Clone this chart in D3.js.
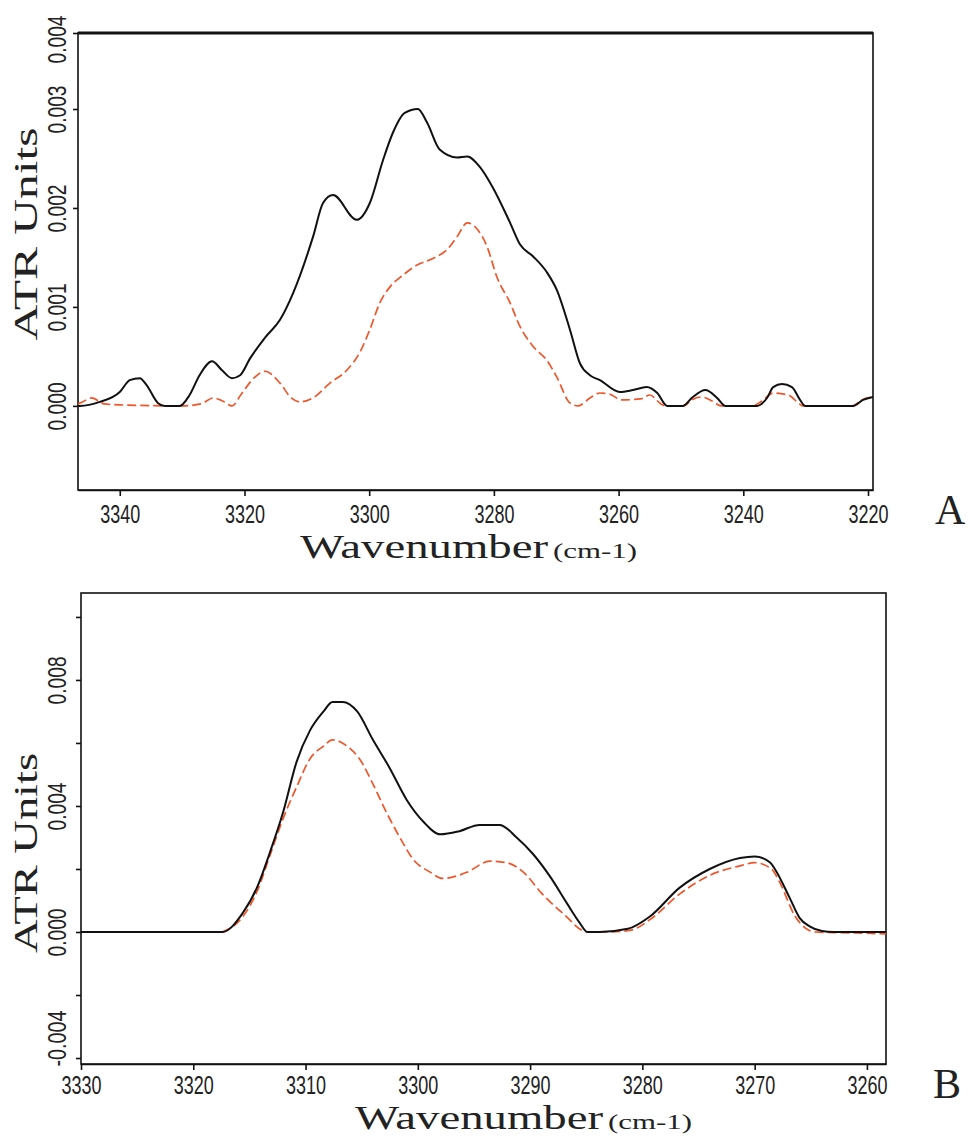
<!DOCTYPE html>
<html>
<head>
<meta charset="utf-8">
<script src="https://cdn.jsdelivr.net/npm/d3@7"></script>
<style>
  body { margin: 0; background: #fff; }
  svg { display: block; }
</style>
</head>
<body>
<svg id="chart" width="969" height="1136"></svg>
<script>
// ---- panel A data (wavenumber cm-1, ATR units) ----
const aBlackWn = [3346.7, 3346.4, 3343.2, 3340.0, 3338.4, 3336.8, 3335.7, 3333.9, 3332.8, 3330.4,
  3328.8, 3327.2, 3325.2, 3323.6, 3322.0, 3320.7, 3319.1, 3316.7, 3314.3, 3312.2,
  3309.0, 3307.4, 3305.8, 3302.0, 3299.9, 3297.8, 3296.2, 3294.3, 3292.2, 3290.7,
  3288.7, 3285.9, 3284.3, 3282.2, 3280.2, 3277.4, 3275.8, 3273.7, 3271.5, 3269.9,
  3267.8, 3266.2, 3264.6, 3263.0, 3259.8, 3257.7, 3255.5, 3253.8, 3252.2, 3249.7,
  3248.1, 3246.1, 3244.2, 3242.9, 3237.8, 3236.2, 3235.2, 3233.8, 3232.2, 3230.9,
  3230.1, 3222.4, 3220.8, 3219.2];
const aBlackAbs = [0, 0, 0.00004, 0.00014, 0.00026, 0.00028, 0.00021, 0.00003, 0, 0,
  0.00011, 0.00031, 0.00045, 0.00036, 0.00028, 0.00031, 0.00048, 0.00069, 0.00087, 0.00114,
  0.00171, 0.00205, 0.00213, 0.00188, 0.00205, 0.00248, 0.00276, 0.00296, 0.00300, 0.00286,
  0.00259, 0.00251, 0.00252, 0.00241, 0.00221, 0.00185, 0.00163, 0.00151, 0.00135, 0.00117,
  0.00077, 0.00043, 0.00031, 0.00026, 0.00014, 0.00016, 0.00019, 0.00013, 0, 0,
  0.00009, 0.00016, 0.00008, 0, 0, 0.00008, 0.00019, 0.00022, 0.00019, 0.00006,
  0, 0, 0.00006, 0.00009];

const aRedWn = [3346.7, 3346.0, 3344.5, 3342.5, 3340.0, 3330.0, 3327.0, 3325.0, 3323.5, 3322.0,
  3320.5, 3318.5, 3316.7, 3314.3, 3312.5, 3311.1, 3309.0, 3306.3, 3303.6, 3301.5,
  3299.9, 3298.3, 3296.7, 3294.6, 3292.4, 3289.8, 3287.5, 3285.9, 3284.3, 3282.6,
  3281.1, 3279.5, 3277.4, 3275.8, 3273.7, 3271.5, 3269.9, 3267.8, 3266.5, 3264.6,
  3263.0, 3261.5, 3259.5, 3256.5, 3255.0, 3253.2, 3252.5, 3249.5, 3248.3, 3246.7,
  3245.0, 3243.5, 3238.5, 3237.0, 3235.2, 3232.8, 3231.0, 3230.5, 3222.5, 3221.0,
  3219.2];
const aRedAbs = [0.00002, 0.00004, 0.00008, 0.00002, 0.00001, 0, 0.00002, 0.00008, 0.00005, 0,
  0.00012, 0.00028, 0.00035, 0.00023, 0.00008, 0.00004, 0.00008, 0.00023, 0.00036, 0.00054,
  0.00077, 0.00104, 0.00120, 0.00132, 0.00142, 0.00149, 0.00158, 0.00171, 0.00185, 0.00178,
  0.00161, 0.00130, 0.00104, 0.00080, 0.00060, 0.00046, 0.00029, 0.00003, 0, 0.00008,
  0.00013, 0.00012, 0.00006, 0.00007, 0.00011, 0.00002, 0, 0, 0.00006, 0.00009,
  0.00005, 0, 0, 0.00005, 0.00013, 0.00011, 0.00002, 0, 0, 0.00006,
  0.00009];

const aXTicks = [3340, 3320, 3300, 3280, 3260, 3240, 3220];
const aYTicks = [0, 0.001, 0.002, 0.003, 0.004];

// ---- panel B data ----
const bBlackWn = [3330.0, 3317.4, 3315.6, 3314.3, 3313.2, 3312.0, 3310.8, 3309.6, 3308.4, 3307.6,
  3306.7, 3305.4, 3304.0, 3302.5, 3301.0, 3299.5, 3298.0, 3296.3, 3294.5, 3292.7,
  3291.2, 3289.8, 3288.2, 3286.7, 3285.6, 3284.9, 3283.8, 3281.3, 3279.3, 3276.7,
  3274.0, 3271.3, 3270.0, 3268.6, 3268.2, 3266.9, 3266.0, 3265.1, 3264.0, 3263.0,
  3258.3];
const bBlackAbs = [0, 0, 0.0006, 0.00143, 0.0025, 0.0038, 0.0054, 0.0064, 0.0070, 0.0073,
  0.0073, 0.0070, 0.0061, 0.0052, 0.0042, 0.0035, 0.0031, 0.0032, 0.0034, 0.0034,
  0.0030, 0.0025, 0.00175, 0.0009, 0.0003, 0, 0, 0.0001, 0.0005, 0.0014,
  0.0020, 0.00235, 0.0024, 0.0022, 0.0020, 0.0011, 0.00045, 0.00018, 0.00003, 0,
  0];

const bRedWn = [3317.4, 3315.6, 3314.3, 3313.2, 3312.0, 3310.8, 3309.6, 3308.4, 3307.6, 3306.3,
  3305.2, 3304.0, 3302.8, 3301.6, 3300.4, 3298.9, 3297.8, 3295.6, 3293.6, 3292.1,
  3290.6, 3288.9, 3287.1, 3284.9, 3283.0, 3281.0, 3279.3, 3276.7, 3274.0, 3271.3,
  3270.0, 3268.5, 3267.8, 3266.4, 3265.5, 3264.6, 3261.0, 3258.3];
const bRedAbs = [0, 0.00048, 0.0013, 0.0024, 0.0036, 0.0046, 0.0055, 0.0059, 0.0061, 0.0059,
  0.0055, 0.0047, 0.0038, 0.0030, 0.0023, 0.0019, 0.0017, 0.0019, 0.00225, 0.0022,
  0.0019, 0.0012, 0.0006, 0, 0, 0.00006, 0.0004, 0.0012, 0.0018, 0.0021,
  0.0022, 0.0020, 0.0016, 0.0005, 0.00013, 0, -0.00003, -0.00006];

const bXTicks = [3330, 3320, 3310, 3300, 3290, 3280, 3270, 3260];
const bYTicks = [-0.004, -0.002, 0, 0.002, 0.004, 0.006, 0.008, 0.010];

const BLACK = '#111';
const RED = '#f0552a';
const tickFont = '"Liberation Sans", Arial, sans-serif';
const serif = '"Liberation Serif", "Times New Roman", serif';

const svg = d3.select('#chart');

const fmt = v => d3.format('.3f')(v).replace('\u2212', '-');

function drawPanel(p) {
  const x = d3.scaleLinear().domain(p.xDomain).range([p.left, p.right]);
  const y = d3.scaleLinear().domain(p.yDomain).range(p.yRange);
  const g = svg.append('g');

  const clipId = 'clip-' + p.id;
  svg.append('clipPath').attr('id', clipId)
    .append('rect')
    .attr('x', p.left).attr('y', p.top)
    .attr('width', p.right - p.left).attr('height', p.bottom - p.top);

  // frame
  g.append('rect')
    .attr('x', p.left).attr('y', p.top)
    .attr('width', p.right - p.left).attr('height', p.bottom - p.top)
    .attr('fill', 'none').attr('stroke', BLACK).attr('stroke-width', 1.6);
  if (p.thickTop) {
    g.append('line')
      .attr('x1', p.left).attr('x2', p.right)
      .attr('y1', p.top).attr('y2', p.top)
      .attr('stroke', BLACK).attr('stroke-width', 3.2);
  }

  // x axis
  const xAxis = g.append('g')
    .attr('transform', `translate(0,${p.bottom})`)
    .call(d3.axisBottom(x).tickValues(p.xTicks).tickSize(6).tickSizeOuter(0).tickFormat(d3.format('d')));
  xAxis.attr('font-family', null).attr('font-size', null);
  xAxis.select('.domain').attr('stroke', BLACK).attr('stroke-width', 1.6);
  xAxis.selectAll('.tick line').attr('stroke', BLACK).attr('stroke-width', 1.6);
  xAxis.selectAll('.tick text')
    .attr('y', p.xLabelY)
    .attr('fill', '#222')
    .attr('textLength', 40)
    .attr('lengthAdjust', 'spacingAndGlyphs')
    .style('font-family', tickFont)
    .style('font-size', '26px');

  // y axis
  const yAxis = g.append('g')
    .attr('transform', `translate(${p.left},0)`)
    .call(d3.axisLeft(y).tickValues(p.yTicks).tickSize(5).tickSizeOuter(0).tickFormat(p.yFormat));
  yAxis.attr('font-family', null).attr('font-size', null);
  yAxis.select('.domain').remove();
  yAxis.selectAll('.tick line').attr('stroke', BLACK).attr('stroke-width', 1.6);
  yAxis.selectAll('.tick text')
    .attr('x', 0).attr('y', 0).attr('dy', 0)
    .attr('transform', `translate(${p.yLabelX},0) rotate(-90)`)
    .style('text-anchor', 'middle')
    .attr('fill', '#222')
    .style('font-family', tickFont)
    .style('font-size', '25px');
  yAxis.selectAll('.tick text')
    .filter(function () { return this.textContent !== ''; })
    .attr('textLength', function () { return this.textContent.length > 5 ? 56 : 48; })
    .attr('lengthAdjust', 'spacingAndGlyphs');
  // the lowest label of panel B starts at the axis corner and reads upward
  if (p.lowLabelStart) {
    yAxis.selectAll('.tick text')
      .filter(d => d === p.yTicks[0])
      .style('text-anchor', 'start')
      .attr('x', -8);
  }
  // keep the label at the top corner inside the page
  if (p.topLabelShift) {
    yAxis.selectAll('.tick text')
      .filter(d => d === p.yTicks[p.yTicks.length - 1])
      .attr('x', -p.topLabelShift);
  }

  // curves
  const line = d3.line()
    .x(d => x(d[0]))
    .y(d => y(d[1]))
    .curve(d3.curveMonotoneX);

  const plot = g.append('g').attr('clip-path', `url(#${clipId})`);
  plot.append('path')
    .datum(d3.zip(p.redWn, p.redAbs))
    .attr('d', line)
    .attr('fill', 'none')
    .attr('stroke', RED)
    .attr('stroke-width', 1.7)
    .attr('stroke-dasharray', '9,4');
  plot.append('path')
    .datum(d3.zip(p.blackWn, p.blackAbs))
    .attr('d', line)
    .attr('fill', 'none')
    .attr('stroke', BLACK)
    .attr('stroke-width', 2);

  // axis titles
  g.append('text')
    .attr('transform', `translate(${p.yTitleX},${p.yTitleY}) rotate(-90)`)
    .attr('text-anchor', 'middle')
    .attr('textLength', p.yTitleLen)
    .attr('lengthAdjust', 'spacingAndGlyphs')
    .style('font-family', serif)
    .style('font-size', '34px')
    .attr('fill', '#222')
    .text('ATR Units');

  const xt = g.append('text')
    .attr('x', p.xTitleX).attr('y', p.xTitleY)
    .style('font-family', serif)
    .attr('fill', '#222');
  xt.append('tspan')
    .style('font-size', '34px')
    .attr('textLength', 248)
    .attr('lengthAdjust', 'spacingAndGlyphs')
    .text('Wavenumber');
  xt.append('tspan')
    .attr('dx', 5)
    .style('font-size', '22px')
    .attr('textLength', 84)
    .attr('lengthAdjust', 'spacingAndGlyphs')
    .text('(cm-1)');

  g.append('text')
    .attr('x', p.letterX).attr('y', p.letterY)
    .style('font-family', serif)
    .style('font-size', '42px')
    .attr('fill', '#222')
    .text(p.letter);
}

drawPanel({
  id: 'a', letter: 'A',
  left: 78, right: 873, top: 33, bottom: 490,
  xDomain: [3346.7, 3219.2],
  yDomain: [-0.00085, 0.003, 0.004], yRange: [490, 109, 33],
  xTicks: aXTicks, yTicks: aYTicks, yFormat: fmt,
  thickTop: true, lowLabelStart: false, topLabelShift: 6,
  blackWn: aBlackWn, blackAbs: aBlackAbs, redWn: aRedWn, redAbs: aRedAbs,
  xLabelY: 15, yLabelX: -12,
  yTitleX: 37, yTitleY: 234, yTitleLen: 213,
  xTitleX: 300, xTitleY: 558,
  letterX: 935, letterY: 524
});

drawPanel({
  id: 'b', letter: 'B',
  left: 81, right: 886, top: 593, bottom: 1064,
  xDomain: [3330, 3258.3],
  yDomain: [-0.00419, 0.01076], yRange: [1064, 593],
  xTicks: bXTicks, yTicks: bYTicks,
  yFormat: v => (Math.round(v * 1000) % 4 === 0 ? fmt(v) : ''),
  thickTop: false, lowLabelStart: true, topLabelShift: 0,
  blackWn: bBlackWn, blackAbs: bBlackAbs, redWn: bRedWn, redAbs: bRedAbs,
  xLabelY: 12, yLabelX: -15,
  yTitleX: 37, yTitleY: 853, yTitleLen: 200,
  xTitleX: 355, xTitleY: 1129,
  letterX: 933, letterY: 1098
});
</script>
</body>
</html>
